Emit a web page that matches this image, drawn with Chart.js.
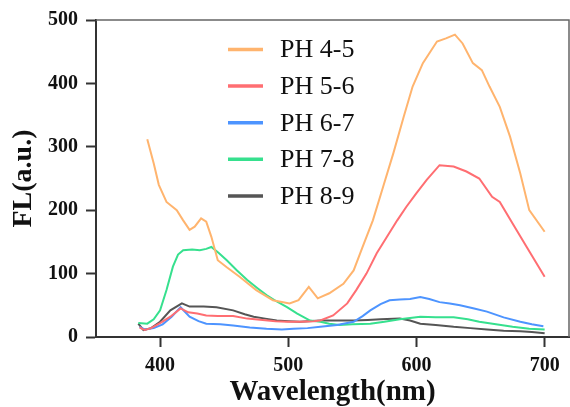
<!DOCTYPE html>
<html>
<head>
<meta charset="utf-8">
<script src="https://cdn.jsdelivr.net/npm/chart.js@4/dist/chart.umd.min.js"></script>
<style>
  html, body { margin: 0; padding: 0; background: #fff; }
  #wrap { width: 570px; height: 407px; position: relative; }
</style>
</head>
<body>
<div id="wrap"><canvas id="myChart"></canvas></div>
<script>
// series labels and colours
const seriesLabels = ['PH 4-5', 'PH 5-6', 'PH 6-7', 'PH 7-8', 'PH 8-9'];
const seriesColors = ['#ffb46e', '#ff6e72', '#4d94ff', '#36e08e', '#555555'];

// PH 4-5
const wl45 = [390, 395, 399, 405, 413, 418, 423, 427, 432, 436, 440, 445, 452, 462, 475, 488, 501, 508, 516, 523, 532, 543, 551, 558, 566, 574, 582, 590, 597, 605, 616, 623, 630, 636, 644, 651, 657, 665, 673, 681, 688, 700];
const fl45 = [312, 274, 240, 213, 200, 184, 169, 174, 187, 182, 158, 121, 110, 95, 74, 58, 53, 58, 79, 61, 69, 84, 105, 142, 184, 237, 290, 347, 395, 432, 466, 471, 477, 463, 432, 421, 395, 363, 316, 258, 200, 166];

// PH 5-6
const wl56 = [384, 388, 393, 400, 408, 416, 422, 429, 436, 445, 457, 468, 480, 490, 499, 510, 520, 525, 535, 546, 553, 561, 569, 577, 585, 592, 600, 608, 618, 629, 639, 649, 659, 665, 675, 686, 700];
const fl56 = [15, 11, 14, 22, 32, 45, 39, 37, 34, 33, 33, 29, 27, 25, 24, 24, 25, 26, 34, 53, 74, 100, 132, 158, 184, 205, 227, 248, 271, 269, 261, 250, 221, 213, 179, 142, 95];

// PH 6-7
const wl67 = [384, 388, 395, 402, 409, 416, 423, 430, 436, 447, 457, 470, 483, 495, 504, 515, 525, 538, 551, 558, 564, 572, 579, 587, 595, 603, 610, 618, 626, 634, 645, 655, 668, 681, 690, 699];
const fl67 = [16, 12, 14, 20, 32, 47, 32, 25, 21, 20, 18, 15, 13, 12, 13, 14, 16, 19, 24, 33, 42, 52, 58, 59, 60, 63, 60, 55, 53, 50, 45, 40, 31, 24, 20, 17];

// PH 7-8
const wl78 = [383, 390, 395, 400, 405, 410, 414, 418, 425, 431, 436, 440, 446, 452, 460, 468, 476, 483, 491, 499, 507, 517, 525, 532, 540, 550, 564, 575, 587, 595, 603, 615, 629, 640, 649, 662, 675, 688, 700];
const fl78 = [22, 21, 28, 42, 74, 111, 130, 137, 138, 137, 139, 142, 132, 121, 105, 90, 77, 66, 56, 47, 37, 26, 24, 21, 19, 20, 21, 24, 28, 30, 32, 31, 31, 28, 24, 20, 16, 13, 12];

// PH 8-9
const wl89 = [383, 387, 393, 400, 408, 417, 423, 434, 444, 457, 466, 473, 482, 491, 500, 509, 525, 540, 551, 562, 572, 587, 595, 603, 615, 629, 642, 655, 668, 681, 690, 700];
const fl89 = [21, 11, 14, 24, 42, 53, 48, 48, 47, 42, 36, 32, 29, 26, 25, 24, 26, 26, 26, 27, 28, 29, 26, 21, 19, 16, 14, 12, 10, 9, 8, 6];

// ticks
const xTicks = [400, 500, 600, 700];
const yTicks = [0, 100, 200, 300, 400, 500];

const allWl = [wl45, wl56, wl67, wl78, wl89];
const allFl = [fl45, fl56, fl67, fl78, fl89];

const serif = "'Liberation Serif', 'Times New Roman', serif";

// legend drawn inside the plot
const legendPlugin = {
  id: 'insideLegend',
  afterDatasetsDraw(chart) {
    const c = chart.ctx;
    c.save();
    chart.data.datasets.forEach(function(ds, i) {
      const y = 50.5 + i * 36.6;
      c.strokeStyle = ds.borderColor;
      c.lineWidth = 3.5;
      c.beginPath();
      c.moveTo(228, y - 1);
      c.lineTo(263, y - 1);
      c.stroke();
      c.fillStyle = '#111';
      c.font = '26px ' + serif;
      c.textBaseline = 'middle';
      c.fillText(ds.label, 280, y);
    });
    c.restore();
  }
};

// top and right frame lines
const framePlugin = {
  id: 'frame',
  beforeDatasetsDraw(chart) {
    const a = chart.chartArea;
    const c = chart.ctx;
    c.save();
    c.strokeStyle = '#666';
    c.lineWidth = 1.5;
    c.beginPath();
    c.moveTo(a.left, a.top);
    c.lineTo(a.right, a.top);
    c.lineTo(a.right, a.bottom);
    c.stroke();
    c.restore();
  }
};

const ctx = document.getElementById('myChart').getContext('2d');
const myChart = new Chart(ctx, {
  type: 'line',
  data: {
    datasets: seriesLabels.map(function(label, i) {
      return {
        label: label,
        data: allWl[i].map((x, j) => ({ x: x, y: allFl[i][j] })),
        borderColor: seriesColors[i],
        borderWidth: 2,
        pointRadius: 0,
        tension: 0,
        fill: false
      };
    })
  },
  options: {
    responsive: true,
    maintainAspectRatio: false,
    animation: false,
    layout: { padding: { top: 20, right: 1, left: 0, bottom: 0 } },
    plugins: {
      legend: { display: false },
      tooltip: { enabled: false }
    },
    scales: {
      x: {
        type: 'linear',
        min: 350,
        max: 719,
        afterBuildTicks: function(scale) {
          scale.ticks = xTicks.map(v => ({ value: v }));
        },
        afterFit: function(scale) { scale.height = 70; },
        ticks: {
          color: '#111',
          padding: 7,
          maxRotation: 0,
          font: { family: serif, size: 20, weight: 'bold' }
        },
        grid: {
          display: true,
          drawOnChartArea: false,
          drawTicks: true,
          tickLength: 10,
          tickWidth: 2,
          tickColor: '#333'
        },
        border: { display: true, color: '#333', width: 2 },
        title: {
          display: true,
          text: 'Wavelength(nm)',
          color: '#111',
          padding: 0,
          font: { family: serif, size: 29, weight: 'bold', lineHeight: 1 }
        }
      },
      y: {
        min: 0,
        max: 500,
        afterBuildTicks: function(scale) {
          scale.ticks = yTicks.map(v => ({ value: v }));
        },
        afterFit: function(scale) { scale.width = 96; },
        ticks: {
          color: '#111',
          padding: 8,
          font: { family: serif, size: 20, weight: 'bold' }
        },
        grid: {
          display: true,
          drawOnChartArea: false,
          drawTicks: true,
          tickLength: 10,
          tickWidth: 2,
          tickColor: '#333'
        },
        border: { display: true, color: '#333', width: 2 },
        title: {
          display: true,
          text: 'FL(a.u.)',
          color: '#111',
          padding: { top: 10, bottom: 0 },
          font: { family: serif, size: 28, weight: 'bold', lineHeight: 1 }
        }
      }
    }
  },
  plugins: [framePlugin, legendPlugin]
});
</script>
</body>
</html>
